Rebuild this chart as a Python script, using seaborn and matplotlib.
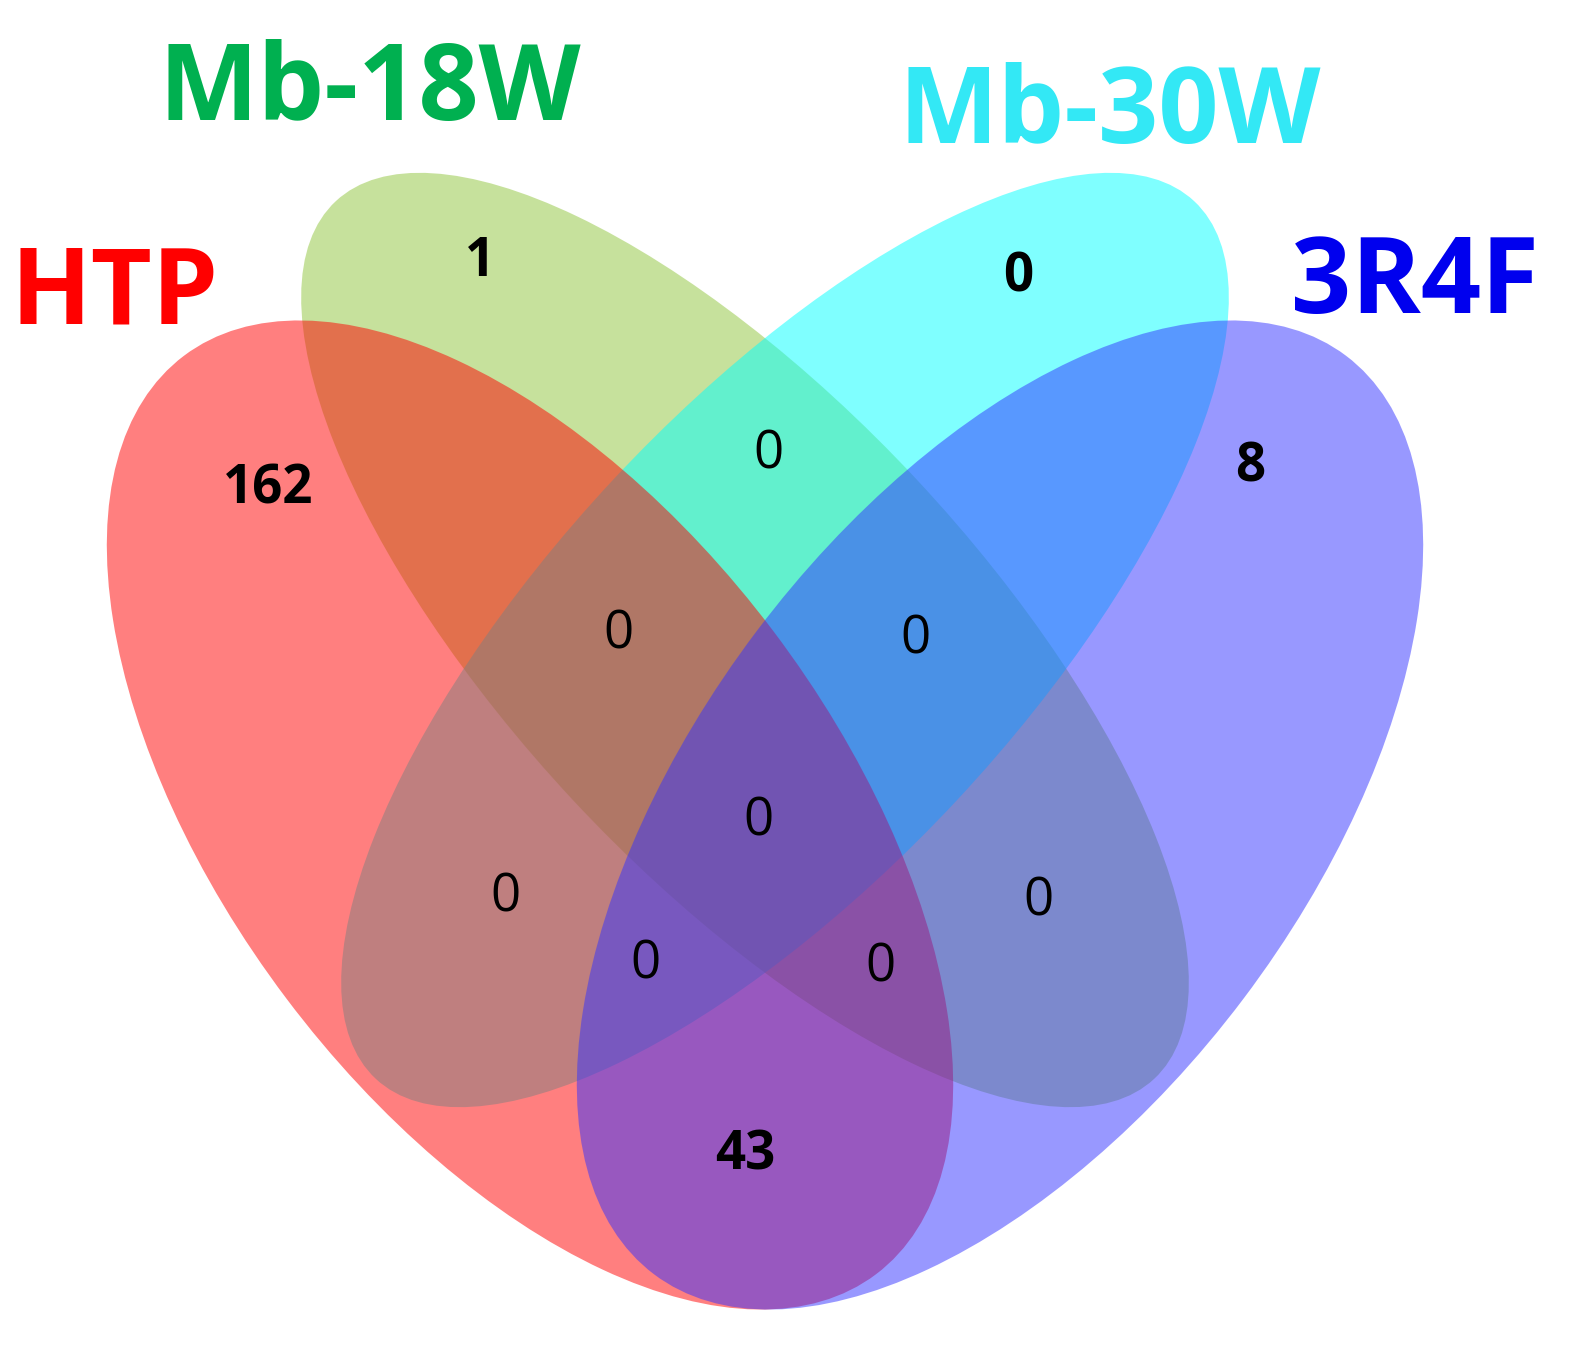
import matplotlib.pyplot as plt
import seaborn as sns
from matplotlib.patches import Ellipse

sns.set_theme(style="white")
plt.rcParams['font.family'] = ['Open Sans', 'DejaVu Sans']

# sets
set_names = ['HTP', 'Mb-18W', 'Mb-30W', '3R4F']
set_colors = ['#ff0000', '#8fc43a', '#00ffff', '#3333ff']
title_colors = ['#ff0000', '#00b050', '#33e8f5', '#0000ee']

# region counts (label, bold)
region_counts = [162, 1, 0, 8, 0, 0, 0, 0, 0, 0, 0, 0, 43]
region_bold = [True, True, True, True] + [False] * 8 + [True]

# layout (pixel coordinates)
ellipse_centers = [(530, 815), (745, 640), (785, 640), (1000, 815)]
ellipse_sizes = [(1150, 610), (1200, 470), (1200, 470), (1150, 610)]
ellipse_angles = [53, 47, -47, -53]
draw_order = [1, 2, 0, 3]  # green, cyan, red, blue
title_pos = [(115, 295), (370, 92), (1110, 115), (1415, 285)]
region_pos = [(268, 490), (480, 262), (1018, 278), (1250, 468),
              (768, 455), (618, 635), (915, 640), (758, 822),
              (505, 898), (1038, 902), (645, 965), (880, 968),
              (745, 1155)]

fig = plt.figure(figsize=(15.8, 13.58), dpi=100)
ax = fig.add_axes([0, 0, 1, 1])
ax.set_xlim(0, 1580)
ax.set_ylim(1358, 0)
ax.axis('off')

for i in draw_order:
    w, h = ellipse_sizes[i]
    ax.add_patch(Ellipse(ellipse_centers[i], w, h, angle=ellipse_angles[i],
                         facecolor=set_colors[i], alpha=0.5, edgecolor='none'))

for name, pos, col in zip(set_names, title_pos, title_colors):
    ax.text(pos[0], pos[1], name, color=col, fontsize=76, fontweight='bold',
            ha='center', va='center')

for val, pos, b in zip(region_counts, region_pos, region_bold):
    ax.text(pos[0], pos[1], str(val), color='black', fontsize=38,
            fontweight='bold' if b else 'normal', ha='center', va='center')

fig.savefig('out.png', dpi=100)
